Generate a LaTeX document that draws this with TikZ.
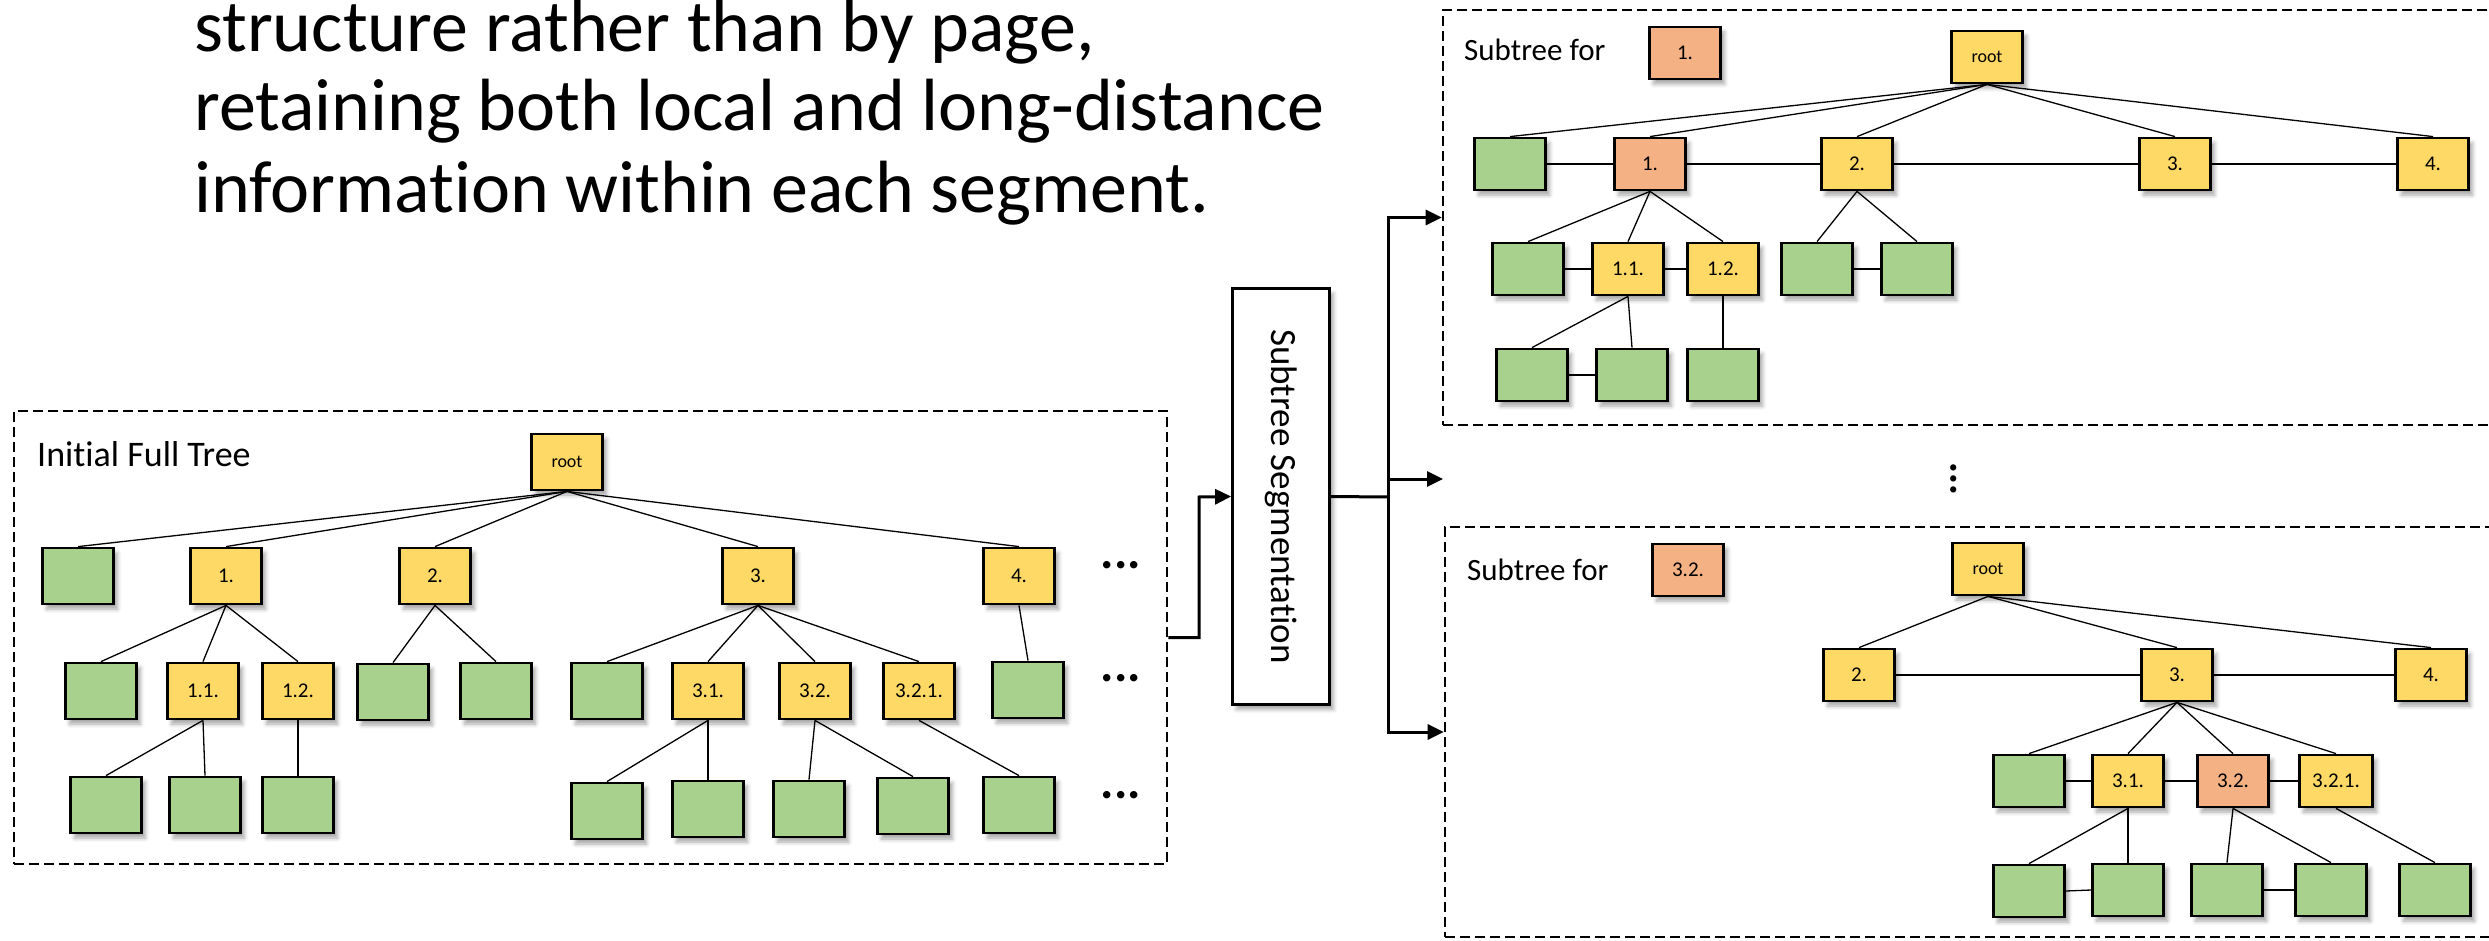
\documentclass[tikz,border=0pt]{standalone}
\usepackage{fontspec}
\setmainfont{Carlito}[Ligatures={NoCommon}]
\usetikzlibrary{arrows.meta,shadows.blur}

\definecolor{boxyellow}{HTML}{FFD966}
\definecolor{boxgreen}{HTML}{A9D18E}
\definecolor{boxorange}{HTML}{F4B183}

\newcommand\rootfont{\fontsize{18}{18}\selectfont}

\tikzset{
  softshadow/.style={blur shadow={shadow xshift=4pt, shadow yshift=-5pt,
    shadow blur radius=4pt, shadow opacity=35}},
  treenode/.style={draw=black, line width=2.8pt, inner sep=0pt,
    minimum width=71pt, minimum height=#1,
    font=\fontsize{21}{21}\selectfont, softshadow},
  treenode/.default=52pt,
  yb/.style={treenode=#1, fill=boxyellow}, yb/.default=52pt,
  gb/.style={treenode=#1, fill=boxgreen},  gb/.default=52pt,
  ob/.style={treenode=#1, fill=boxorange}, ob/.default=52pt,
  tedge/.style={line width=1.3pt},
  container/.style={draw=black, line width=2.6pt, dash pattern=on 10pt off 5pt, inner sep=0pt},
  segbox/.style={draw=black, line width=2.8pt, fill=white, inner sep=0pt,
    font=\fontsize{37}{37}\selectfont, softshadow},
  flowline/.style={line width=3pt},
  flow/.style={line width=3pt, -{Triangle[length=16pt,width=15pt]}},
  hdots/.style={inner sep=0pt, font=\fontsize{50}{50}\selectfont\bfseries},
  lbl/.style={inner sep=0pt},
}

\begin{document}
\begin{tikzpicture}[x=1pt, y=-1pt]
\useasboundingbox (0,0) rectangle (2489,941);

% ---------- caption text ----------
\begin{scope}[every node/.style={inner sep=0pt, anchor=base west, font=\fontsize{74}{80}\selectfont}]
\node (cap1) at (194,52)  {structure rather than by page,};
\node (cap2) at (194,131) {retaining both local and long-distance};
\node (cap3) at (194,213) {information within each segment.};
\end{scope}

% ---------- frames ----------
\node[container, minimum width=1153pt, minimum height=453pt] (fullbox) at (590.5,637.5) {};
\node[container, minimum width=1057pt, minimum height=415pt] (topbox) at (1971.5,217.5) {};
\node[container, minimum width=1055pt, minimum height=410pt] (botbox) at (1972.5,732) {};

\node[lbl, anchor=base west, font=\fontsize{36}{36}\selectfont] (F-title) at (37,466) {Initial Full Tree};
\node[lbl, anchor=base west, font=\fontsize{31}{31}\selectfont] (T-title) at (1464,61) {Subtree for};
\node[lbl, anchor=base west, font=\fontsize{31}{31}\selectfont] (B-title) at (1467,580) {Subtree for};

% ---------- initial full tree ----------
\node[yb=56pt, font=\rootfont] (F-root) at (567,462) {root};
\node[gb=56pt] (F-g1) at (78,576) {};
\node[yb=56pt] (F-1) at (226,576) {1.};
\node[yb=56pt] (F-2) at (435,576) {2.};
\node[yb=56pt] (F-3) at (758,576) {3.};
\node[yb=56pt] (F-4) at (1019,576) {4.};

\node[gb=56pt] (F-g11) at (101,691) {};
\node[yb=56pt] (F-11) at (203,691) {1.1.};
\node[yb=56pt] (F-12) at (298,691) {1.2.};
\node[gb=56pt] (F-g21) at (393,692) {};
\node[gb=56pt] (F-g22) at (496,691) {};
\node[gb=56pt] (F-g31) at (607,691) {};
\node[yb=56pt] (F-31) at (708,691) {3.1.};
\node[yb=56pt] (F-32) at (815,691) {3.2.};
\node[yb=56pt] (F-321) at (919,691) {3.2.1.};
\node[gb=56pt] (F-g41) at (1028,690) {};

\node[gb=56pt] (F-g111) at (106,805) {};
\node[gb=56pt] (F-g112) at (205,805) {};
\node[gb=56pt] (F-g121) at (298,805) {};
\node[gb=56pt] (F-g311) at (607,811) {};
\node[gb=56pt] (F-g312) at (708,809) {};
\node[gb=56pt] (F-g321) at (809,809) {};
\node[gb=56pt] (F-g322) at (913,806) {};
\node[gb=56pt] (F-g3211) at (1019,805) {};

\node[hdots] (F-dots1) at (1121,565) {...};
\node[hdots] (F-dots2) at (1121,678) {...};
\node[hdots] (F-dots3) at (1121,795) {...};

\foreach \p/\c in {F-root/F-g1, F-root/F-1, F-root/F-2, F-root/F-3, F-root/F-4,
  F-1/F-g11, F-1/F-11, F-1/F-12, F-2/F-g21, F-2/F-g22,
  F-3/F-g31, F-3/F-31, F-3/F-32, F-3/F-321, F-4/F-g41,
  F-11/F-g111, F-11/F-g112, F-12/F-g121,
  F-31/F-g311, F-31/F-g312, F-32/F-g321, F-32/F-g322, F-321/F-g3211}
  \draw[tedge] (\p.south) -- (\c.north);

% ---------- segmentation step ----------
\node[segbox, minimum width=97pt, minimum height=416pt] (seg) at (1281,496.5)
  {\rotatebox{-90}{Subtree Segmentation}};

\coordinate (in-bend) at (1199,497);
\draw[flow] (fullbox.east) -| (in-bend) -- (seg.west);

\coordinate (fork) at (1388,497);
\coordinate (mid-start) at (1388,479);
\coordinate (mid-end) at (1443,479);
\draw[flowline] (seg.east) -- (fork);
\draw[flow] (fork) |- (topbox.west);
\draw[flow] (fork) |- (botbox.west);
\draw[flow] (mid-start) -- (mid-end);

\node[hdots, rotate=90, font=\fontsize{42}{42}\selectfont\bfseries] (vdots) at (1954,479) {...};

% ---------- subtree for 1. ----------
\node[ob] (T-key) at (1685,53) {1.};
\node[yb, font=\rootfont] (T-root) at (1987,57) {root};
\node[gb] (T-g1) at (1510,164) {};
\node[ob] (T-1) at (1650,164) {1.};
\node[yb] (T-2) at (1857,164) {2.};
\node[yb] (T-3) at (2175,164) {3.};
\node[yb] (T-4) at (2433,164) {4.};

\node[gb] (T-g11) at (1528,269) {};
\node[yb] (T-11) at (1628,269) {1.1.};
\node[yb] (T-12) at (1723,269) {1.2.};
\node[gb] (T-g21) at (1817,269) {};
\node[gb] (T-g22) at (1917,269) {};

\node[gb] (T-g111) at (1532,375) {};
\node[gb] (T-g112) at (1632,375) {};
\node[gb] (T-g121) at (1723,375) {};

\foreach \p/\c in {T-root/T-g1, T-root/T-1, T-root/T-2, T-root/T-3, T-root/T-4,
  T-1/T-g11, T-1/T-11, T-1/T-12, T-2/T-g21, T-2/T-g22,
  T-11/T-g111, T-11/T-g112, T-12/T-g121}
  \draw[tedge] (\p.south) -- (\c.north);
\foreach \a/\b in {T-g1/T-1, T-1/T-2, T-2/T-3, T-3/T-4,
  T-g11/T-11, T-11/T-12, T-g21/T-g22, T-g111/T-g112}
  \draw[tedge] (\a.east) -- (\b.west);

% ---------- subtree for 3.2. ----------
\node[ob] (B-key) at (1688,570) {3.2.};
\node[yb, font=\rootfont] (B-root) at (1988,569) {root};
\node[yb] (B-2) at (1859,675) {2.};
\node[yb] (B-3) at (2177,675) {3.};
\node[yb] (B-4) at (2431,675) {4.};

\node[gb] (B-g31) at (2029,781) {};
\node[yb] (B-31) at (2128,781) {3.1.};
\node[ob] (B-32) at (2233,781) {3.2.};
\node[yb, minimum width=73pt] (B-321) at (2336,781) {3.2.1.};

\node[gb] (B-g311) at (2029,891) {};
\node[gb] (B-g312) at (2128,890) {};
\node[gb] (B-g321) at (2227,890) {};
\node[gb] (B-g322) at (2331,890) {};
\node[gb] (B-g3211) at (2435,890) {};

\foreach \p/\c in {B-root/B-2, B-root/B-3, B-root/B-4,
  B-3/B-g31, B-3/B-31, B-3/B-32, B-3/B-321,
  B-31/B-g311, B-31/B-g312, B-32/B-g321, B-32/B-g322, B-321/B-g3211}
  \draw[tedge] (\p.south) -- (\c.north);
\foreach \a/\b in {B-2/B-3, B-3/B-4, B-g31/B-31, B-31/B-32, B-32/B-321,
  B-g311/B-g312, B-g321/B-g322}
  \draw[tedge] (\a.east) -- (\b.west);

\end{tikzpicture}
\end{document}
